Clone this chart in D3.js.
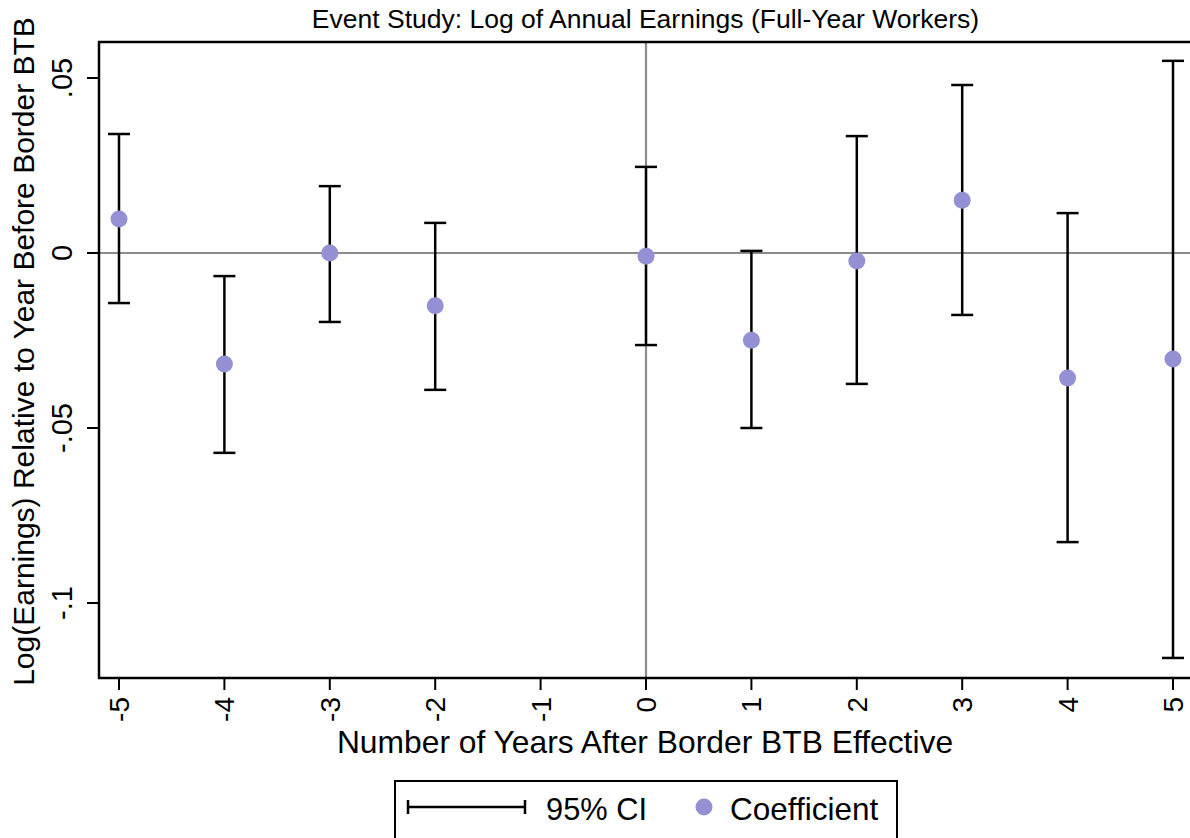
<!DOCTYPE html>
<html><head><meta charset="utf-8">
<script src="https://cdn.jsdelivr.net/npm/d3@7"></script>
<style>body{margin:0;background:#fff;}svg{display:block;font-family:"Liberation Sans",Arial,sans-serif;}</style>
</head><body>
<svg id="c" width="1190" height="838"></svg>
<script>
const years = [-5, -4, -3, -2, 0, 1, 2, 3, 4, 5];
const coef  = [0.0097, -0.0317, 0.0000, -0.0151, -0.0009, -0.0249, -0.0023, 0.0151, -0.0357, -0.0303];
const ciLo  = [-0.0143, -0.0571, -0.0197, -0.0391, -0.0263, -0.0500, -0.0374, -0.0177, -0.0826, -0.1157];
const ciHi  = [0.0340, -0.0066, 0.0191, 0.0086, 0.0246, 0.0006, 0.0334, 0.0480, 0.0114, 0.0549];
const xTicks = [-5, -4, -3, -2, -1, 0, 1, 2, 3, 4, 5];
const yTicks = [0.05, 0, -0.05, -0.1];
const yTickLabels = [".05", "0", "-.05", "-.1"];

const svg = d3.select("#c");
const L = 99, T = 42, R = 1192, B = 678;
const x = d3.scaleLinear().domain([-5, 5]).range([119, 1173]);
const y = d3.scaleLinear().domain([0.05, -0.1]).range([78, 603]);

// reference lines
svg.append("line").attr("x1", L).attr("x2", R).attr("y1", y(0)).attr("y2", y(0)).attr("stroke", "#8c8c8c").attr("stroke-width", 2.2);
svg.append("line").attr("x1", x(0)).attr("x2", x(0)).attr("y1", T).attr("y2", B).attr("stroke", "#8c8c8c").attr("stroke-width", 2.2);

// plot frame (left, top, bottom)
svg.append("path").attr("d", `M${R},${T}H${L}V${B}H${R}`).attr("fill", "none").attr("stroke", "#000").attr("stroke-width", 2.5);

// y axis
const yAx = svg.append("g");
yTicks.forEach((v, i) => {
  yAx.append("line").attr("x1", L - 12).attr("x2", L).attr("y1", y(v)).attr("y2", y(v)).attr("stroke", "#000").attr("stroke-width", 2);
  yAx.append("text").attr("transform", `translate(${L - 27},${y(v)}) rotate(-90)`)
    .attr("text-anchor", "middle").attr("font-size", 29).text(yTickLabels[i]);
});
// x axis
const xAx = svg.append("g");
xTicks.forEach(v => {
  xAx.append("line").attr("x1", x(v)).attr("x2", x(v)).attr("y1", B).attr("y2", B + 12).attr("stroke", "#000").attr("stroke-width", 2);
  xAx.append("text").attr("transform", `translate(${x(v) + 10},${B + 19}) rotate(-90)`)
    .attr("text-anchor", "end").attr("font-size", 28).text(v);
});

// titles
svg.append("text").attr("x", 645.5).attr("y", 28).attr("text-anchor", "middle").attr("font-size", 26.5).text("Event Study: Log of Annual Earnings (Full-Year Workers)");
svg.append("text").attr("x", 645).attr("y", 753).attr("text-anchor", "middle").attr("font-size", 31.8).text("Number of Years After Border BTB Effective");
svg.append("text").attr("transform", `translate(34,351.5) rotate(-90)`).attr("text-anchor", "middle").attr("font-size", 30).text("Log(Earnings) Relative to Year Before Border BTB");

// CIs
const capW = 11;
const g = svg.append("g");
years.forEach((yr, i) => {
  const cx = x(yr);
  g.append("line").attr("x1", cx).attr("x2", cx).attr("y1", y(ciHi[i])).attr("y2", y(ciLo[i])).attr("stroke", "#000").attr("stroke-width", 2.5);
  g.append("line").attr("x1", cx - capW).attr("x2", cx + capW).attr("y1", y(ciHi[i])).attr("y2", y(ciHi[i])).attr("stroke", "#000").attr("stroke-width", 2.5);
  g.append("line").attr("x1", cx - capW).attr("x2", cx + capW).attr("y1", y(ciLo[i])).attr("y2", y(ciLo[i])).attr("stroke", "#000").attr("stroke-width", 2.5);
});
svg.append("g").selectAll("circle").data(years).join("circle")
  .attr("cx", d => x(d)).attr("cy", (d, i) => y(coef[i])).attr("r", 8.5).attr("fill", "#9391d3");

// legend
const lg = svg.append("g");
lg.append("rect").attr("x", 395).attr("y", 781).attr("width", 502).attr("height", 58).attr("fill", "none").attr("stroke", "#000").attr("stroke-width", 2);
lg.append("line").attr("x1", 408).attr("x2", 525).attr("y1", 807).attr("y2", 807).attr("stroke", "#000").attr("stroke-width", 2.5);
lg.append("line").attr("x1", 408).attr("x2", 408).attr("y1", 800).attr("y2", 814).attr("stroke", "#000").attr("stroke-width", 2.5);
lg.append("line").attr("x1", 525).attr("x2", 525).attr("y1", 800).attr("y2", 814).attr("stroke", "#000").attr("stroke-width", 2.5);
lg.append("text").attr("x", 546).attr("y", 820).attr("font-size", 30.8).text("95% CI");
lg.append("circle").attr("cx", 704).attr("cy", 807).attr("r", 8.5).attr("fill", "#9391d3");
lg.append("text").attr("x", 730).attr("y", 820).attr("font-size", 31.5).text("Coefficient");
</script>
</body></html>
